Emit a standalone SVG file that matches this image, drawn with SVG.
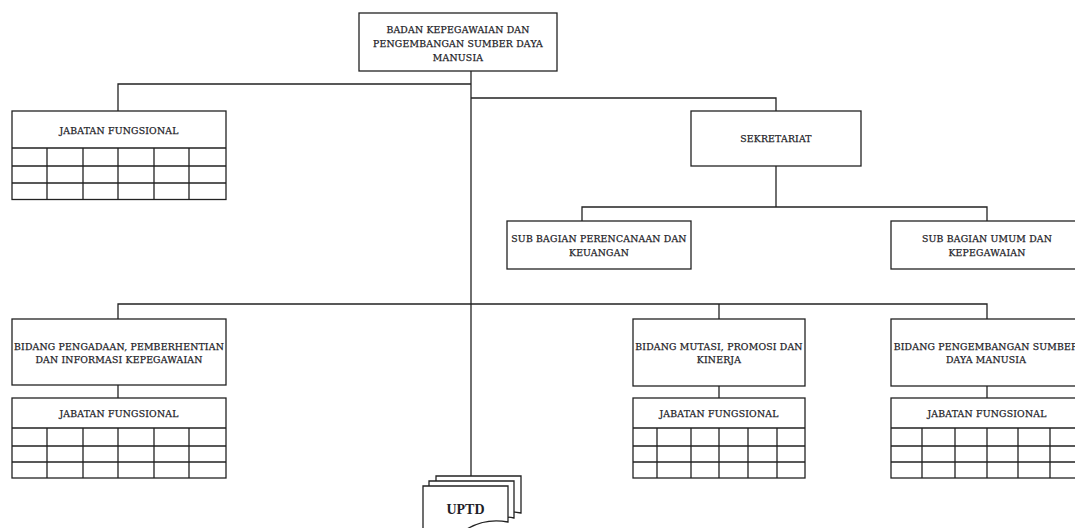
<svg xmlns="http://www.w3.org/2000/svg" width="1075" height="528" viewBox="0 0 1075 528">
<style>
.box{fill:#fff;stroke:#222;stroke-width:1.3}
.ln{fill:none;stroke:#222;stroke-width:1.3}
.t{font-family:"DejaVu Serif","Liberation Serif",serif;font-size:9.3px;letter-spacing:0.2px;fill:#1e1e28;stroke:#1e1e28;stroke-width:0.25;text-anchor:middle}
.u{font-family:"Liberation Serif","DejaVu Serif",serif;font-size:14px;font-weight:bold;fill:#1e1e28;text-anchor:middle}
</style>
<rect width="1075" height="528" fill="#fff"/>
<g id="connectors" class="ln">
<path d="M471,71 V476"/>
<path d="M471,84 H118 V111"/>
<path d="M471,98 H776 V111"/>
<path d="M776,166 V207"/>
<path d="M582,221 V207 H987 V221"/>
<path d="M118,319 V304 H987 V319"/>
<path d="M719,304 V319"/>
<path d="M118,385 V398"/>
<path d="M719,386 V398"/>
<path d="M987,386 V398"/>
</g>
<g id="badan">
<rect class="box" x="359" y="13" width="198" height="58"/>
<text class="t" x="458" y="32.5">BADAN KEPEGAWAIAN DAN</text>
<text class="t" x="458" y="46.5">PENGEMBANGAN SUMBER DAYA</text>
<text class="t" x="458" y="60.5">MANUSIA</text>
</g>
<g id="jf1">
<rect class="box" x="12" y="111" width="214" height="88.5"/>
<path class="ln" d="M12,148 H226 M12,166 H226 M12,183 H226 M47,148 V199.5 M83,148 V199.5 M118,148 V199.5 M154,148 V199.5 M189,148 V199.5"/>
<text class="t" x="119" y="133.5">JABATAN FUNGSIONAL</text>
</g>
<g id="sekretariat">
<rect class="box" x="691" y="111" width="170" height="55"/>
<text class="t" x="776" y="141.5">SEKRETARIAT</text>
</g>
<g id="subbag1">
<rect class="box" x="507" y="221" width="184" height="48"/>
<text class="t" x="599" y="242">SUB BAGIAN PERENCANAAN DAN</text>
<text class="t" x="599" y="255.5">KEUANGAN</text>
</g>
<g id="subbag2">
<rect class="box" x="891" y="221" width="195" height="48"/>
<text class="t" x="987" y="242">SUB BAGIAN UMUM DAN</text>
<text class="t" x="987" y="255.5">KEPEGAWAIAN</text>
</g>
<g id="bidang1">
<rect class="box" x="12" y="319" width="214" height="66"/>
<text class="t" x="119" y="349.5">BIDANG PENGADAAN, PEMBERHENTIAN</text>
<text class="t" x="119" y="363">DAN INFORMASI KEPEGAWAIAN</text>
</g>
<g id="jf2">
<rect class="box" x="12" y="398" width="214" height="80"/>
<path class="ln" d="M12,428 H226 M12,446 H226 M12,462 H226 M47,428 V478 M83,428 V478 M118,428 V478 M154,428 V478 M189,428 V478"/>
<text class="t" x="119" y="417">JABATAN FUNGSIONAL</text>
</g>
<g id="bidang2">
<rect class="box" x="633" y="319" width="172" height="67"/>
<text class="t" x="719" y="349.5">BIDANG MUTASI, PROMOSI DAN</text>
<text class="t" x="719" y="363">KINERJA</text>
</g>
<g id="jf3">
<rect class="box" x="633" y="398" width="172" height="80"/>
<path class="ln" d="M633,428 H805 M633,446 H805 M633,462 H805 M657,428 V478 M691,428 V478 M719,428 V478 M748,428 V478 M777,428 V478"/>
<text class="t" x="719" y="417">JABATAN FUNGSIONAL</text>
</g>
<g id="bidang3">
<rect class="box" x="891" y="319" width="195" height="67"/>
<text class="t" x="986" y="349.5">BIDANG PENGEMBANGAN SUMBER</text>
<text class="t" x="986" y="363">DAYA MANUSIA</text>
</g>
<g id="jf4">
<rect class="box" x="891" y="398" width="195" height="80"/>
<path class="ln" d="M891,428 H1086 M891,446 H1086 M891,462 H1086 M922,428 V478 M955,428 V478 M987,428 V478 M1018,428 V478 M1050,428 V478"/>
<text class="t" x="987" y="417">JABATAN FUNGSIONAL</text>
</g>
<g id="uptd">
<path class="box" d="M436,476 H521 V513 C505,510 490,514 480,520 C465,528 450,528 436,525 Z"/>
<path class="box" d="M429,481 H514 V518 C498,515 483,519 473,525 C458,533 443,533 429,530 Z"/>
<path class="box" d="M423,486 H508 V522 C492,519 477,523 467,529 C452,537 437,537 423,534 Z"/>
<text class="u" x="465.5" y="514">UPTD</text>
</g>
</svg>
